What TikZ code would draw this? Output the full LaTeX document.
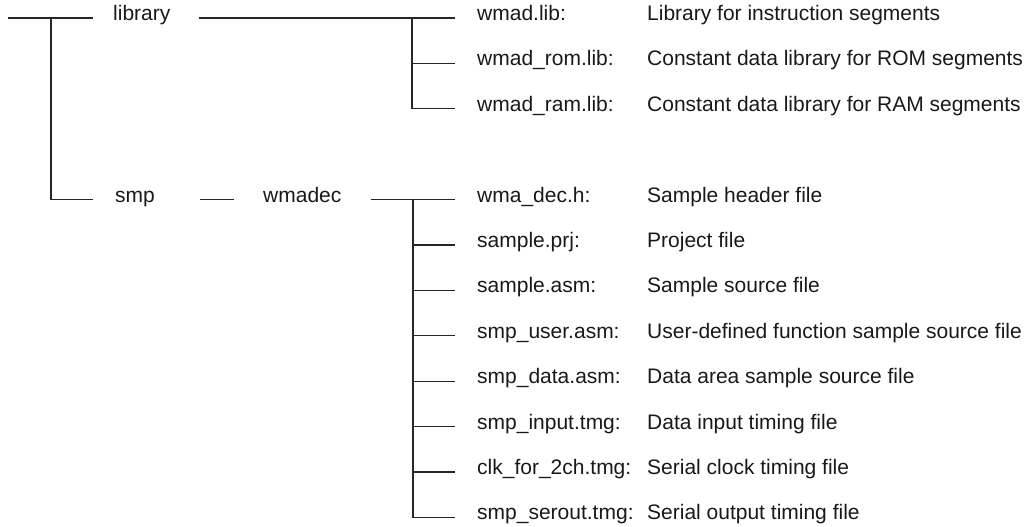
\documentclass[tikz,border=0pt]{standalone}
\usepackage{fontspec}
\setmainfont{Liberation Sans}
\tikzset{
  dirtext/.style={anchor=west, inner sep=0pt, text height=0.72em, text depth=0.21em, text=black!90},
  treeline/.style={draw=black!85, line width=1.1bp},
}
\begin{document}
\begin{tikzpicture}[x=1bp, y=-1bp, font=\fontsize{21bp}{25bp}\selectfont]
  \useasboundingbox (0,0) rectangle (1030,527);

  % Top level folders
  \coordinate (root) at (8,18);
  \coordinate (split) at (51,18);
  \node[dirtext] (lib) at (113,18) {library};
  \node[dirtext] (smp) at (115,199.6) {smp};
  \node[dirtext] (wmadec) at (263,199.6) {wmadec};

  \draw[treeline] (root) -- ([xshift=-20bp]lib.west);
  \draw[treeline] (split) |- ([xshift=-22bp]smp.west);
  \draw[treeline] ([xshift=45bp]smp.east) -- ([xshift=-29bp]wmadec.west);

  % library contents
  \coordinate (libsplit) at (412,18);
  \foreach \fname/\fdesc [count=\i] in {
      wmad.lib:/Library for instruction segments,
      wmad\_rom.lib:/Constant data library for ROM segments,
      wmad\_ram.lib:/Constant data library for RAM segments}
  {
    \node[dirtext] (lf\i) at (477,{18+45.4*(\i-1)}) {\fname};
    \node[dirtext] (ld\i) at (647,{18+45.4*(\i-1)}) {\fdesc};
  }
  \draw[treeline] ([xshift=28bp]lib.east) -- ([xshift=-22bp]lf1.west);
  \draw[treeline] (libsplit |- lf2) -- ([xshift=-22bp]lf2.west);
  \draw[treeline] (libsplit) |- ([xshift=-22bp]lf3.west);

  % wmadec contents
  \coordinate (decsplit) at (413,199.6);
  \foreach \fname/\fdesc [count=\i] in {
      wma\_dec.h:/Sample header file,
      sample.prj:/Project file,
      sample.asm:/Sample source file,
      smp\_user.asm:/User-defined function sample source file,
      smp\_data.asm:/Data area sample source file,
      smp\_input.tmg:/Data input timing file,
      clk\_for\_2ch.tmg:/Serial clock timing file,
      smp\_serout.tmg:/Serial output timing file}
  {
    \node[dirtext] (wf\i) at (477,{199.6+45.4*(\i-1)}) {\fname};
    \node[dirtext] (wd\i) at (647,{199.6+45.4*(\i-1)}) {\fdesc};
  }
  \draw[treeline] ([xshift=29bp]wmadec.east) -- ([xshift=-22bp]wf1.west);
  \foreach \i in {2,...,7}
    \draw[treeline] (decsplit |- wf\i) -- ([xshift=-22bp]wf\i.west);
  \draw[treeline] (decsplit) |- ([xshift=-22bp]wf8.west);
\end{tikzpicture}
\end{document}
